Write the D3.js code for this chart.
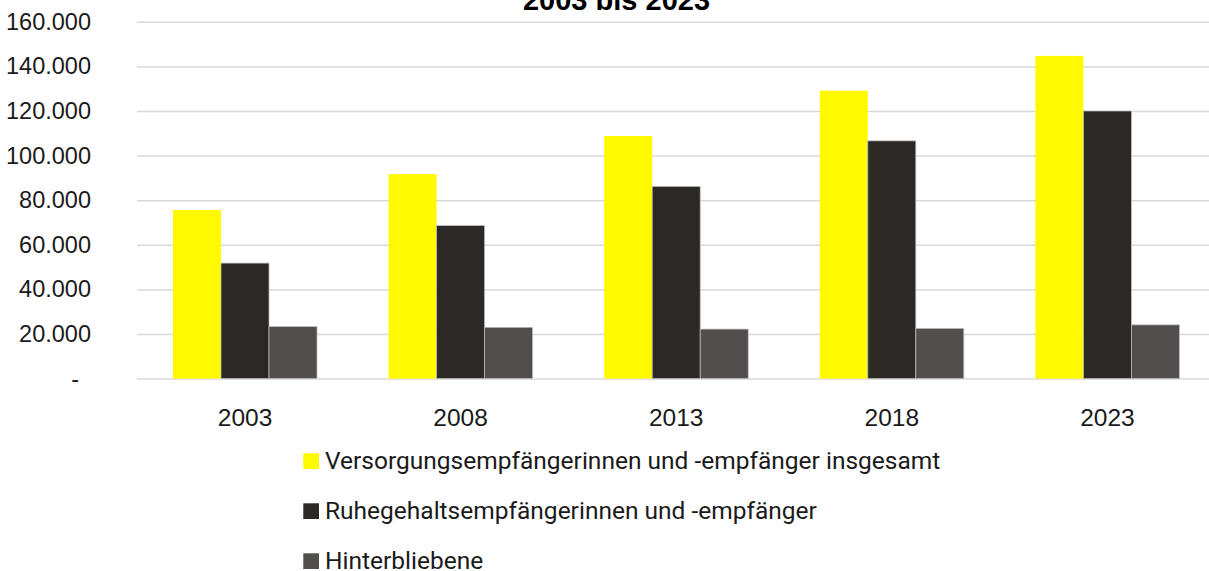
<!DOCTYPE html>
<html>
<head>
<meta charset="utf-8">
<script src="https://cdn.jsdelivr.net/npm/d3@7"></script>
<style>
  body { margin: 0; background: #fff; }
  svg { display: block; font-family: Roboto, sans-serif; }
</style>
</head>
<body>
<script>
// data
var years = ["2003", "2008", "2013", "2018", "2023"];
var seriesNames = [
  "Versorgungsempfängerinnen und -empfänger insgesamt",
  "Ruhegehaltsempfängerinnen und -empfänger",
  "Hinterbliebene"
];
var insgesamt = [75600, 91700, 108800, 129100, 144700];
var ruhegehalt = [51800, 68600, 86200, 106600, 120000];
var hinterbliebene = [23300, 23000, 22200, 22500, 24100];
var yTicks = [0, 20000, 40000, 60000, 80000, 100000, 120000, 140000, 160000];
var colors = ["#fffa00", "#2b2825", "#524e4d"];

var allSeries = [insgesamt, ruhegehalt, hinterbliebene];

var width = 1209, height = 571;

var svg = d3.select("body")
   .append("svg")
   .attr("width", width)
   .attr("height", height);

var xScale = d3.scaleBand()
   .domain(years)
   .range([137.2, 1215.2])
   .paddingInner(0.332)
   .paddingOuter(0.166);

var xInner = d3.scaleBand()
   .domain(d3.range(seriesNames.length))
   .range([0, xScale.bandwidth()]);

var yScale = d3.scaleLinear()
   .domain([0, 160000])
   .range([378.6, 21.8]);

// title (cut off at the top like in the original)
svg.append("text")
   .text("2003 bis 2023")
   .attr("x", 616.5)
   .attr("y", 9.5)
   .attr("text-anchor", "middle")
   .style("font-family", "'Liberation Sans', Arial, sans-serif")
   .style("font-weight", "bold")
   .style("font-size", "29px")
   .style("fill", "#000");

// y axis with grid lines
var yAxis = d3.axisLeft(yScale)
   .tickValues(yTicks)
   .tickSize(-(width - 137))
   .tickPadding(46)
   .tickFormat(function(d){
       return d === 0 ? "-" : d3.format(",")(d).replace(/,/g, ".");
   });

var gy = svg.append("g")
   .attr("transform", "translate(137,0)")
   .call(yAxis);
gy.select(".domain").remove();
gy.selectAll(".tick line")
   .attr("stroke", "#d9d9d9")
   .attr("stroke-width", 1.5);
gy.selectAll(".tick text")
   .style("font-size", "23.5px")
   .style("fill", "#1a1a1a")
   .attr("x", function(d){ return d === 0 ? -58 : -46; });

// bars
var groups = svg.append("g")
   .selectAll("g")
   .data(years)
   .enter()
   .append("g")
   .attr("transform", function(d){ return "translate(" + xScale(d) + ",0)"; });

groups.selectAll("rect")
   .data(function(d, i){
       return allSeries.map(function(s, k){ return {k: k, v: s[i]}; });
   })
   .enter()
   .append("rect")
   .attr("x", function(d){ return xInner(d.k); })
   .attr("width", xInner.bandwidth())
   .attr("y", function(d){ return yScale(d.v); })
   .attr("height", function(d){ return yScale(0) - yScale(d.v); })
   .attr("fill", function(d){ return colors[d.k]; })
   .attr("stroke", function(d){ return d.k === 0 ? "none" : "#bdbdbd"; })
   .attr("stroke-width", 0.75);

// x axis labels
var xAxis = d3.axisBottom(xScale).tickSize(0).tickPadding(29.3);
var gx = svg.append("g")
   .attr("transform", "translate(0,379)")
   .call(xAxis);
gx.select(".domain").remove();
gx.selectAll(".tick text")
   .style("font-size", "24.5px")
   .style("fill", "#1a1a1a");

// legend
var legend = svg.append("g")
   .selectAll("g")
   .data(seriesNames)
   .enter()
   .append("g")
   .attr("transform", function(d, i){ return "translate(303.3," + (469 + i * 50) + ")"; });

legend.append("rect")
   .attr("x", 0)
   .attr("y", -15.7)
   .attr("width", 15.7)
   .attr("height", 15.7)
   .attr("fill", function(d, i){ return colors[i]; });

legend.append("text")
   .text(function(d){ return d; })
   .attr("x", 21.7)
   .attr("y", 0)
   .style("font-size", "24.5px")
   .style("fill", "#1a1a1a");
</script>
</body>
</html>
